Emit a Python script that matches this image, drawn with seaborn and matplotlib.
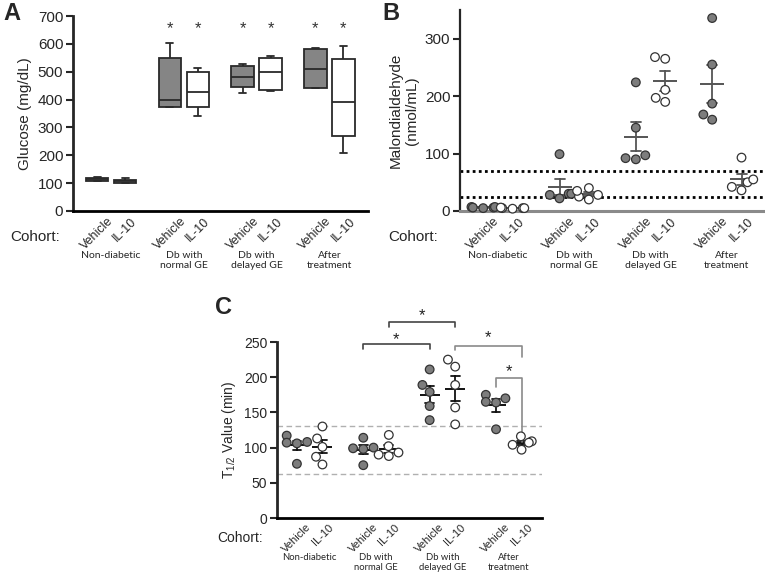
import numpy as np
import pandas as pd
import matplotlib
matplotlib.use("Agg")
import matplotlib.pyplot as plt
import seaborn as sns

# ---------------- data ----------------
cohorts = ["Non-diabetic", "Db with\nnormal GE", "Db with\ndelayed GE", "After\ntreatment"]
treatments = ["Vehicle", "IL-10"]

# Panel A: glucose five-number summaries (min, Q1, median, Q3, max), mg/dL
glucose_vehicle = [
    [106, 108, 114, 120, 122],
    [372, 374, 400, 548, 604],
    [422, 444, 482, 521, 529],
    [443, 443, 508, 581, 585],
]
glucose_il10 = [
    [100, 101, 108, 113, 118],
    [342, 373, 427, 499, 514],
    [431, 435, 500, 550, 556],
    [210, 268, 390, 544, 592],
]
glucose_sig_y = 655

# Panel B: malondialdehyde (nmol/mL), individual animals
mda_vehicle = [
    [7, 5, 6, 6, 7],
    [99, 30, 22, 28, 30],
    [224, 145, 97, 90, 92],
    [336, 255, 187, 159, 168],
]
mda_il10 = [
    [5, 4, 5, 6, 5],
    [40, 25, 20, 35, 28],
    [265, 268, 211, 190, 197],
    [93, 50, 36, 42, 55],
]
mda_ref_lines = [69, 25]

# Panel C: T1/2 (min), individual animals
t12_vehicle = [
    [117, 107, 106, 108, 77],
    [114, 99, 98, 100, 75],
    [211, 189, 179, 159, 139],
    [175, 170, 165, 164, 126],
]
t12_il10 = [
    [130, 113, 101, 87, 76],
    [118, 102, 93, 90, 88],
    [225, 215, 189, 157, 133],
    [116, 109, 107, 104, 97],
]
t12_ref_lines = [131, 63]

GROUP_STEP = 2.6
POS = [g * GROUP_STEP + k for g in range(len(cohorts)) for k in (0, 1)]


def long_df(veh, il):
    rows = []
    for g in range(len(cohorts)):
        for k, (trt, arr) in enumerate((("Vehicle", veh), ("IL-10", il))):
            for v in arr[g]:
                rows.append(dict(pos=g * GROUP_STEP + k, val=v, trt=trt, cohort=cohorts[g]))
    return pd.DataFrame(rows)


# ---------------- style ----------------
sns.set_style("ticks")
plt.rcParams["font.family"] = ["Liberation Sans", "DejaVu Sans"]
plt.rcParams["mathtext.fontset"] = "custom"
plt.rcParams["mathtext.rm"] = "Liberation Sans"
plt.rcParams["mathtext.it"] = "Liberation Sans:italic"
GROUP_FONT = ["Lato", "DejaVu Sans"]

W, H = 765, 574
fig = plt.figure(figsize=(W / 100, H / 100), dpi=100)


def add_ax(left, right, top, bottom):
    return fig.add_axes([left / W, (H - bottom) / H, (right - left) / W, (bottom - top) / H])


def style_axis(ax, spine_bottom_color="black", lw=2.0, tick_fs=11):
    sns.despine(ax=ax)
    ax.spines["left"].set_linewidth(lw)
    ax.spines["bottom"].set_linewidth(lw)
    ax.spines["bottom"].set_color(spine_bottom_color)
    ax.tick_params(axis="y", direction="out", length=5, width=1.5, labelsize=tick_fs, pad=2)
    ax.set_xlabel("")


def cohort_labels(ax, tick_fs, group_fs, group_offset, cohort_fs, cohort_x_px, cohort_y_off):
    ax.set_xticks(POS)
    ax.set_xticklabels(treatments * len(cohorts), rotation=45, ha="center", va="top",
                       fontsize=tick_fs)
    ax.tick_params(axis="x", length=0, pad=3)
    for g, name in enumerate(cohorts):
        xc = g * GROUP_STEP + 0.5
        ax.annotate(name, xy=(xc, 0), xycoords=("data", "axes fraction"),
                    xytext=(0, -group_offset), textcoords="offset points",
                    ha="center", va="top", fontsize=group_fs, family=GROUP_FONT,
                    linespacing=1.15, annotation_clip=False)
    fig.text(cohort_x_px / W, 1 - cohort_y_off / H, "Cohort:", fontsize=cohort_fs,
             ha="left", va="center")


# ---------------- Panel A ----------------
axA = add_ax(73, 368, 16, 211)
rowsA = []
for g in range(len(cohorts)):
    for v in glucose_vehicle[g]:
        rowsA.append(dict(pos=g * GROUP_STEP, val=v, fill="nd_v" if g == 0 else "veh"))
    for v in glucose_il10[g]:
        rowsA.append(dict(pos=g * GROUP_STEP + 1, val=v, fill="nd_i" if g == 0 else "il"))
dfA = pd.DataFrame(rowsA)
sns.boxplot(data=dfA, x="pos", y="val", hue="fill", native_scale=True, dodge=False,
            palette={"nd_v": "#6a6a6a", "nd_i": "#8f8f8f", "veh": "#858585", "il": "white"},
            saturation=1, width=0.8, whis=(0, 100), linecolor="#2a2a2a", linewidth=1.3,
            legend=False, ax=axA, capwidths=0.25)
axA.set_xlim(-0.86, 9.68)
axA.set_ylim(0, 700)
axA.set_yticks(range(0, 701, 100))
axA.set_ylabel("Glucose (mg/dL)", fontsize=11, labelpad=4)
style_axis(axA)
for g in range(1, len(cohorts)):
    for k in (0, 1):
        axA.text(g * GROUP_STEP + k, glucose_sig_y, "*", ha="center", va="center",
                 fontsize=12, color="#333333")
cohort_labels(axA, 9, 7.5, 29, 11, 10, 237)
fig.text(3 / W, 1 - 2 / H, "A", fontsize=17, fontweight="bold", ha="left", va="top")


def scatter_panel(ax, veh, il, mean_color, mean_size):
    df = long_df(veh, il)
    sns.swarmplot(data=df, x="pos", y="val", hue="trt", native_scale=True, dodge=False,
                  palette={"Vehicle": "#7d7d7d", "IL-10": "white"}, size=6.2,
                  edgecolor="#333333", linewidth=0.9, legend=False, warn_thresh=1, ax=ax)
    for coll in ax.collections:
        coll.set_clip_on(False)
    sns.pointplot(data=df, x="pos", y="val", native_scale=True, errorbar="se",
                  capsize=0.34, color=mean_color, marker="_", markersize=mean_size,
                  markeredgewidth=1.4, linestyle="none", err_kws={"linewidth": 1.3}, ax=ax)


# ---------------- Panel B ----------------
axB = add_ax(460, 765, 10, 211)
scatter_panel(axB, mda_vehicle, mda_il10, "#555555", 17)
for yv in mda_ref_lines:
    axB.axhline(yv, color="black", linestyle=(0, (1, 1.2)), linewidth=2.0, zorder=0)
axB.set_xlim(-0.79, 9.6)
axB.set_ylim(0, 350)
axB.set_yticks([0, 100, 200, 300])
axB.set_ylabel("Malondialdehyde\n(nmol/mL)", fontsize=11, labelpad=4)
style_axis(axB, spine_bottom_color="#8a8a8a", lw=1.6)
axB.spines["bottom"].set_linewidth(2.2)
cohort_labels(axB, 9, 7.5, 29, 11, 388, 237)
fig.text(382 / W, 1 - 2 / H, "B", fontsize=17, fontweight="bold", ha="left", va="top")

# ---------------- Panel C ----------------
axC = add_ax(277, 542, 342, 518)
scatter_panel(axC, t12_vehicle, t12_il10, "#111111", 15)
for yv in t12_ref_lines:
    axC.axhline(yv, color="#b0b0b0", linestyle=(0, (4, 2.5)), linewidth=1.0, zorder=0)
axC.set_xlim(-0.78, 9.6)
axC.set_ylim(0, 250)
axC.set_yticks(range(0, 251, 50))
axC.set_ylabel("T$_{1/2}$ Value (min)", fontsize=10, labelpad=4)
style_axis(axC, tick_fs=10)
cohort_labels(axC, 8, 6.8, 25, 10, 217, 538)
fig.text(215 / W, 1 - 296 / H, "C", fontsize=17, fontweight="bold", ha="left", va="top")


def bracket(ax, x1, x2, y, y1, y2, color, star_y):
    ax.plot([x1, x1, x2, x2], [y1, y, y, y2], color=color, linewidth=1.2, clip_on=False)
    ax.text((x1 + x2) / 2, star_y, "*", ha="center", va="center", fontsize=12,
            color="#222222", clip_on=False)


P = POS
bracket(axC, P[2], P[4], 247, 240, 240, "#444444", 253)
bracket(axC, P[3], P[5], 278, 271, 271, "#444444", 288)
bracket(axC, P[5], P[7], 245, 239, 229, "#8a8a8a", 256)
bracket(axC, P[6], P[7], 199, 186, 108, "#8a8a8a", 208)

fig.savefig("out.png", dpi=100)
